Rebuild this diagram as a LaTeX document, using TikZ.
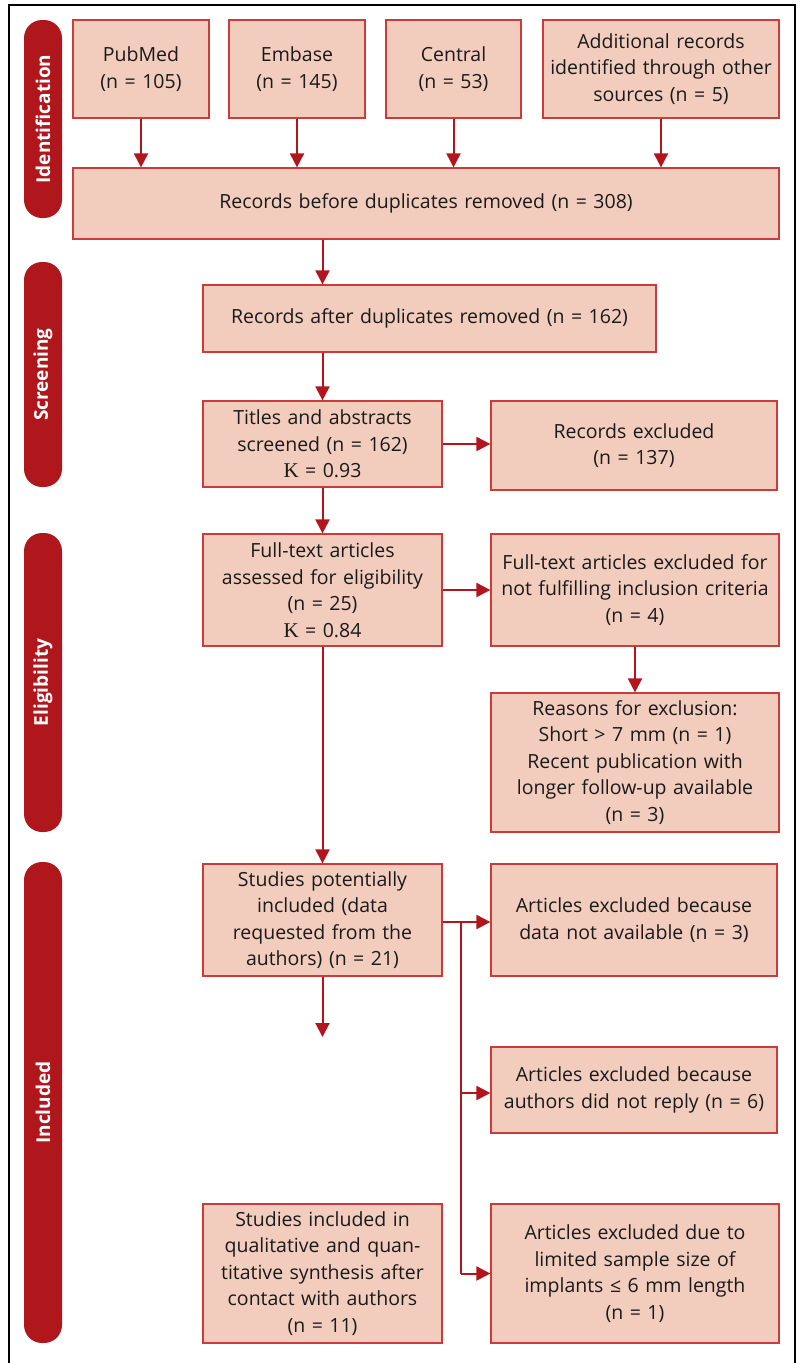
\documentclass[tikz,border=0pt]{standalone}
\usepackage{fontspec}
\setmainfont{Open Sans}
\newfontfamily\kfont{Liberation Serif}
\usetikzlibrary{arrows.meta}
\definecolor{boxfill}{HTML}{F2CDBD}
\definecolor{boxline}{HTML}{CC3A3A}
\definecolor{arr}{HTML}{B2161C}
\definecolor{side}{HTML}{B0171C}
\definecolor{txt}{HTML}{1A1A1A}
\tikzset{
  box/.style={draw=boxline, fill=boxfill, line width=1.2pt, align=center, inner sep=2pt,
    text=txt, font=\fontsize{19.5}{26.5}\selectfont},
  sidelab/.style={fill=side, rounded corners=18pt, text=white,
    font=\fontsize{19}{22}\selectfont\bfseries, rotate=90, inner sep=0pt},
  flow/.style={draw=arr, line width=2pt, -{Triangle[length=14pt,width=14pt]}},
  plain/.style={draw=arr, line width=2pt}
}
\newcommand{\kk}{{\kfont\fontsize{21}{26.5}\selectfont K}}
\begin{document}
\begin{tikzpicture}[x=1pt,y=-1pt]
\useasboundingbox (0,0) rectangle (800,1363);
\draw[line width=1.3pt, black] (9,5) rectangle (795,1380);
% side labels
\node[sidelab, minimum width=198pt, minimum height=38pt] (s1) at (43,119) {Identification};
\node[sidelab, minimum width=225pt, minimum height=38pt] (s2) at (43,374.5) {Screening};
\node[sidelab, minimum width=299pt, minimum height=38pt] (s3) at (43,682.5) {Eligibility};
\node[sidelab, minimum width=481pt, minimum height=38pt] (s4) at (43,1102.5) {Included};
% boxes
\node[box, minimum width=136pt, minimum height=98pt, text width=130pt] (pub) at (141,69) {PubMed\\(n = 105)};
\node[box, minimum width=136pt, minimum height=98pt, text width=130pt] (emb) at (297,69) {Embase\\(n = 145)};
\node[box, minimum width=135pt, minimum height=98pt, text width=129pt] (cen) at (453.5,69) {Central\\(n = 53)};
\node[box, minimum width=236pt, minimum height=98pt, text width=230pt] (add) at (661,69) {Additional records\\identified through other\\sources (n = 5)};
\node[box, minimum width=706pt, minimum height=71pt, text width=700pt] (before) at (426,203.5) {Records before duplicates removed (n = 308)};
\node[box, minimum width=453pt, minimum height=67pt, text width=447pt] (after) at (429.5,318.5) {Records after duplicates removed (n = 162)};
\node[box, minimum width=239pt, minimum height=86pt, text width=233pt] (titles) at (322.5,444) {Titles and abstracts\\screened (n = 162)\\\kk{} = 0.93};
\node[box, minimum width=286pt, minimum height=89pt, text width=280pt] (recexc) at (634,445.5) {Records excluded\\(n = 137)};
\node[box, minimum width=239pt, minimum height=112pt, text width=233pt] (full) at (322.5,590) {Full-text articles\\assessed for eligibility\\(n = 25)\\\kk{} = 0.84};
\node[box, minimum width=288pt, minimum height=112pt, text width=282pt] (ftexc) at (635,590) {Full-text articles excluded for\\not fulfilling inclusion criteria\\(n = 4)};
\node[box, minimum width=288pt, minimum height=139pt, text width=282pt] (reasons) at (635,762.5) {Reasons for exclusion:\\Short > 7 mm (n = 1)\\Recent publication with\\longer follow-up available\\(n = 3)};
\node[box, minimum width=239pt, minimum height=112pt, text width=233pt] (pot) at (322.5,920) {Studies potentially\\included (data\\requested from the\\authors) (n = 21)};
\node[box, minimum width=286pt, minimum height=112pt, text width=280pt] (notav) at (634,920) {Articles excluded because\\data not available (n = 3)};
\node[box, minimum width=286pt, minimum height=86pt, text width=280pt] (norep) at (634,1090) {Articles excluded because\\authors did not reply (n = 6)};
\node[box, minimum width=239pt, minimum height=139pt, text width=233pt] (incl) at (322.5,1273.5) {Studies included in\\qualitative and quan-\\titative synthesis after\\contact with authors\\(n = 11)};
\node[box, minimum width=288pt, minimum height=139pt, text width=282pt] (lim) at (635,1273.5) {Articles excluded due to\\limited sample size of\\implants ≤ 6 mm length\\(n = 1)};
% connectors
\draw[flow] (pub.south) -- (pub.south |- before.north);
\draw[flow] (emb.south) -- (emb.south |- before.north);
\draw[flow] (cen.south) -- (cen.south |- before.north);
\draw[flow] (add.south) -- (add.south |- before.north);
\draw[flow] (before.south -| titles.north) -- (titles.north |- after.north);
\draw[flow] (after.south -| titles.north) -- (titles.north);
\draw[flow] (titles.east) -- (titles.east -| recexc.west);
\draw[flow] (titles.south) -- (full.north);
\draw[flow] (full.east) -- (full.east -| ftexc.west);
\draw[flow] (ftexc.south) -- (reasons.north);
\draw[flow] (full.south) -- (pot.north);
\coordinate (potend) at (322.5,1037);
\draw[flow] (pot.south) -- (potend);
\coordinate (br) at (461,922);
\draw[plain] (pot.east |- br) -- (br);
\draw[flow] (br) -- (br -| notav.west);
\draw[plain] (br) -- (461,1273.5);
\draw[flow] (461,1093) -- (norep.west |- 461,1093);
\draw[flow] (461,1273.5) -- (lim.west);
\end{tikzpicture}
\end{document}
